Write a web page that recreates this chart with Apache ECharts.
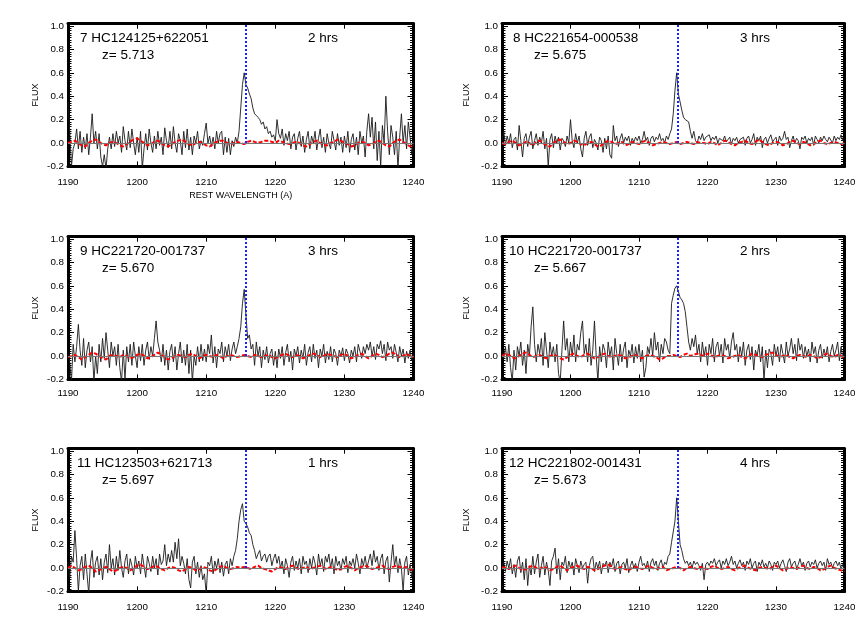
<!DOCTYPE html>
<html>
<head>
<meta charset="utf-8">
<title>Lyman alpha spectra</title>
<script src="https://cdn.jsdelivr.net/npm/echarts@6/dist/echarts.min.js"></script>
<style>
  html, body { margin: 0; padding: 0; background: #fff; }
  #chart { width: 864px; height: 637px; }
</style>
</head>
<body>
<div id="chart"></div>
<script>
// rest-frame wavelength grid (Angstrom)
var WAVE_START = 1190;
var WAVE_STEP = 0.25;
var NOISE_STEP = 0.5;
var LYA = 1215.67;

var names = ['7 HC124125+622051', '8 HC221654-000538', '9 HC221720-001737',
             '10 HC221720-001737', '11 HC123503+621713', '12 HC221802-001431'];
var redshifts = ['5.713', '5.675', '5.670', '5.667', '5.697', '5.673'];
var hours = ['2 hrs', '3 hrs', '3 hrs', '2 hrs', '1 hrs', '4 hrs'];

// spectra, one value every 0.25 A from 1190 to 1240
var flux7 = [
  0.35, 0.1, -0.2, -0.05, 0.0, 0.12, -0.05, 0.1, -0.08, 0.05, -0.05, 0.08, -0.1, 0.05, 0.25, 0.0, 0.1, -0.05, 0.08, -0.12,
  -0.2, -0.1, -0.22, -0.05, 0.05, -0.05, 0.08, -0.03, 0.1, 0.0, 0.06, -0.08, 0.14, 0.02, -0.06, 0.1, -0.04, 0.12, 0.0, -0.1,
  0.05, -0.08, 0.1, -0.22, -0.05, 0.08, -0.06, 0.12, 0.0, -0.08, 0.06, -0.05, 0.1, -0.02, 0.05, -0.1, 0.13, 0.02, -0.04, 0.1,
  -0.05, 0.14, 0.0, -0.08, 0.08, 0.02, -0.1, 0.1, -0.04, 0.12, -0.06, 0.05, -0.1, 0.06, 0.0, 0.1, -0.05, 0.02, -0.02, 0.08,
  0.17, 0.0, 0.06, -0.03, 0.05, -0.05, 0.1, 0.0, 0.08, 0.1, -0.1, 0.05, -0.08, 0.04, -0.1, 0.02, -0.03, 0.05, 0.0, 0.1,
  0.3, 0.5, 0.6, 0.5, 0.47, 0.42, 0.38, 0.3, 0.25, 0.26, 0.22, 0.2, 0.16, 0.18, 0.12, 0.14, 0.08, 0.1, 0.05, 0.07,
  0.02, 0.2, 0.08, 0.04, 0.12, -0.02, 0.08, 0.02, 0.1, -0.05, 0.05, 0.08, -0.06, 0.04, 0.1, -0.03, 0.06, -0.08, 0.03, 0.1,
  -0.05, 0.06, 0.0, 0.1, -0.06, 0.04, 0.12, -0.04, 0.05, -0.08, 0.08, 0.0, -0.05, 0.1, 0.02, -0.06, 0.08, -0.02, 0.05, -0.08,
  0.06, -0.04, 0.1, -0.08, 0.03, 0.08, -0.06, 0.05, -0.1, 0.1, 0.0, 0.06, -0.12, 0.1, 0.25, 0.05, 0.22, -0.05, 0.18, -0.15,
  0.1, -0.2, 0.15, 0.0, 0.4, 0.1, -0.1, 0.15, 0.05, -0.1, 0.1, -0.22, 0.05, 0.25, 0.0, 0.15, -0.05, 0.18, 0.05, -0.1, 0.02
];
var flux8 = [
  0.02, 0.1, -0.02, 0.06, 0.0, 0.08, -0.04, 0.03, 0.05, -0.06, 0.15, 0.02, -0.12, 0.04, 0.08, -0.03, 0.05, 0.1, -0.05, 0.02,
  0.08, -0.02, 0.05, 0.0, 0.1, -0.05, 0.04, -0.2, 0.03, 0.08, -0.04, 0.06, 0.0, 0.05, -0.06, 0.04, 0.02, -0.03, 0.06, 0.0,
  0.2, 0.02, -0.04, 0.08, 0.0, 0.06, -0.05, -0.12, 0.04, 0.1, -0.02, 0.05, 0.08, -0.04, 0.03, 0.0, -0.06, 0.05, 0.02, -0.08,
  0.04, -0.05, 0.06, -0.1, -0.13, 0.15, 0.02, 0.06, -0.03, 0.04, 0.08, 0.0, 0.05, 0.02, 0.06, -0.02, 0.04, 0.01, 0.05, 0.02,
  0.06, 0.0, 0.03, 0.1, 0.02, 0.05, -0.02, 0.04, 0.06, 0.01, 0.05, 0.03, 0.08, 0.02, 0.04, 0.0, 0.06, 0.03, 0.08, 0.12,
  0.25, 0.45, 0.6, 0.42, 0.35, 0.28, 0.22, 0.2, 0.21, 0.18, 0.1, 0.04, 0.1, 0.02, 0.0, 0.06, 0.03, 0.08, 0.02, 0.05,
  0.04, 0.07, 0.02, 0.05, 0.03, 0.06, 0.0, 0.04, 0.05, 0.02, 0.06, 0.01, 0.03, 0.05, -0.01, 0.04, 0.02, 0.05, 0.0, 0.03,
  0.02, 0.05, -0.02, 0.04, 0.06, 0.0, 0.03, 0.08, -0.02, 0.05, 0.02, 0.06, -0.04, 0.03, 0.05, 0.0, 0.04, 0.07, 0.01, 0.03,
  0.05, -0.02, 0.06, 0.02, 0.04, 0.1, 0.03, 0.05, -0.04, 0.02, 0.06, 0.0, 0.04, 0.02, -0.05, 0.05, 0.03, 0.06, 0.0, 0.04,
  0.02, 0.05, -0.02, 0.06, 0.03, 0.0, 0.05, 0.02, 0.06, 0.03, 0.01, 0.05, 0.04, 0.0, 0.06, 0.02, 0.05, 0.03, 0.07, 0.02, 0.04
];
var flux9 = [
  0.0, -0.05, -0.22, 0.1, -0.05, 0.08, 0.27, 0.05, -0.08, 0.15, -0.1, 0.05, 0.12, -0.05, 0.08, -0.22, 0.0, -0.15, 0.1, -0.05,
  0.15, -0.02, 0.2, 0.05, -0.1, 0.12, 0.0, 0.08, -0.08, 0.1, -0.1, -0.22, 0.05, -0.2, 0.08, -0.05, 0.1, -0.08, 0.12, 0.0,
  -0.1, 0.08, -0.04, 0.1, -0.08, 0.05, 0.12, -0.03, 0.08, 0.0, 0.15, 0.3, 0.12, 0.05, -0.05, 0.1, -0.08, 0.05, -0.12, 0.04,
  0.1, -0.05, 0.08, -0.12, 0.02, 0.12, -0.06, 0.05, -0.08, 0.1, -0.15, 0.05, -0.22, 0.0, -0.08, 0.08, -0.05, 0.1, -0.04, 0.06,
  -0.05, 0.1, 0.02, 0.18, -0.06, 0.08, -0.1, 0.06, 0.02, 0.12, -0.05, 0.08, 0.0, 0.1, -0.04, 0.06, 0.12, 0.02, 0.08, 0.15,
  0.25, 0.45, 0.57, 0.35, 0.15, 0.18, 0.06, 0.1, -0.08, 0.12, 0.0, 0.08, -0.1, 0.05, -0.03, 0.08, -0.06, 0.02, 0.06, -0.08,
  0.04, -0.1, 0.06, -0.02, 0.08, -0.08, 0.03, 0.1, -0.05, 0.04, -0.12, 0.06, 0.0, 0.08, -0.06, 0.05, -0.02, 0.1, -0.08, 0.03,
  0.08, -0.05, 0.1, -0.02, 0.05, -0.1, 0.06, 0.0, 0.1, -0.06, 0.04, -0.03, 0.08, -0.05, 0.06, 0.02, -0.08, 0.05, 0.0, 0.07,
  -0.04, 0.06, 0.02, -0.06, 0.05, 0.0, 0.08, -0.05, 0.1, 0.04, -0.02, 0.08, 0.02, 0.1, 0.05, 0.12, 0.0, 0.08, -0.03, 0.1,
  0.06, 0.13, 0.02, 0.1, -0.04, 0.12, 0.05, 0.08, -0.02, 0.1, 0.03, -0.05, 0.08, 0.0, 0.06, -0.06, 0.04, -0.02, 0.05, -0.04, 0.02
];
var flux10 = [
  0.05, -0.02, 0.08, -0.05, 0.1, -0.1, -0.22, 0.05, -0.12, 0.08, 0.0, 0.12, -0.08, 0.05, -0.15, 0.1, 0.0, 0.25, 0.42, 0.1,
  -0.05, 0.1, 0.02, 0.15, -0.08, 0.2, 0.05, -0.1, 0.12, 0.0, 0.08, -0.05, 0.1, -0.15, -0.22, 0.05, 0.3, 0.05, 0.15, -0.05,
  0.12, 0.0, 0.18, -0.05, 0.1, 0.05, 0.2, 0.3, 0.02, 0.1, -0.05, 0.15, -0.08, 0.05, 0.3, 0.0, -0.22, 0.08, -0.05, 0.1,
  0.05, -0.1, 0.12, 0.0, 0.08, -0.12, 0.15, 0.02, -0.08, 0.1, -0.05, 0.06, 0.12, -0.1, 0.05, 0.0, 0.1, -0.06, 0.08, -0.02,
  0.1, -0.05, 0.05, -0.18, -0.1, 0.08, 0.02, 0.15, 0.0, 0.2, 0.05, 0.12, -0.05, 0.1, 0.02, 0.15, 0.12, 0.05, 0.02, 0.45,
  0.52, 0.58, 0.6, 0.55, 0.5, 0.48, 0.45, 0.38, 0.25, 0.12, 0.05, 0.15, 0.08, 0.18, 0.02, 0.1, -0.05, 0.12, 0.0, 0.08,
  -0.08, 0.1, 0.02, 0.15, -0.05, 0.08, 0.12, 0.0, 0.1, -0.06, 0.15, 0.05, 0.1, -0.02, 0.12, 0.2, 0.05, 0.1, -0.05, 0.08,
  0.0, 0.12, -0.08, 0.05, 0.1, -0.03, 0.08, -0.12, 0.05, 0.0, 0.1, -0.05, 0.08, -0.22, 0.05, -0.1, 0.06, 0.02, -0.08, 0.1,
  0.0, 0.08, -0.05, 0.1, 0.02, -0.06, 0.12, 0.0, 0.06, 0.15, 0.02, 0.1, -0.04, 0.15, 0.05, 0.1, -0.02, 0.08, 0.0, 0.06,
  -0.05, 0.12, 0.02, 0.08, -0.06, 0.05, 0.1, -0.02, 0.06, 0.0, 0.08, -0.05, 0.04, 0.1, 0.0, 0.05, 0.12, -0.04, 0.08, -0.02, 0.03
];
var flux11 = [
  0.05, -0.08, 0.1, 0.05, 0.32, 0.08, -0.2, 0.02, 0.1, -0.1, 0.12, -0.05, -0.22, 0.05, 0.15, -0.08, 0.05, 0.1, -0.06, 0.08,
  -0.1, 0.05, 0.12, -0.04, 0.2, 0.0, 0.08, -0.06, 0.1, -0.02, 0.15, 0.0, -0.08, 0.06, 0.12, -0.05, 0.08, 0.02, -0.06, 0.1,
  0.0, 0.06, -0.05, 0.12, 0.02, -0.08, 0.1, 0.04, -0.03, 0.1, 0.0, 0.08, -0.06, 0.12, 0.03, 0.06, 0.2, 0.02, 0.12, 0.05,
  0.15, 0.05, 0.22, 0.08, 0.25, 0.02, 0.1, 0.04, -0.05, 0.08, -0.1, -0.17, 0.05, 0.1, -0.05, 0.05, -0.08, 0.02, -0.1, -0.05,
  -0.22, 0.05, 0.02, 0.1, -0.05, 0.06, 0.0, 0.08, -0.04, 0.05, -0.07, 0.03, 0.06, -0.05, 0.08, 0.02, 0.1, 0.15, 0.25, 0.4,
  0.5, 0.55, 0.4, 0.38, 0.35, 0.3, 0.28, 0.2, 0.15, 0.08, 0.12, 0.15, 0.06, 0.1, 0.12, 0.05, 0.1, 0.12, 0.02, 0.08,
  0.12, 0.04, 0.1, 0.0, 0.06, -0.05, 0.08, 0.02, -0.08, 0.05, 0.1, -0.02, 0.06, 0.0, 0.08, -0.05, 0.1, 0.03, 0.06, -0.04,
  0.08, 0.0, 0.1, 0.04, -0.06, 0.12, 0.02, 0.08, -0.03, 0.1, 0.05, 0.12, 0.0, 0.08, -0.05, 0.1, 0.02, 0.06, -0.02, 0.08,
  0.03, 0.1, -0.04, 0.06, 0.02, 0.08, 0.0, 0.12, 0.04, -0.05, 0.08, 0.02, 0.1, 0.0, 0.06, 0.12, 0.02, 0.15, 0.05, 0.1,
  -0.02, 0.08, 0.12, -0.05, 0.06, 0.1, -0.12, 0.05, 0.2, 0.02, 0.1, -0.04, 0.08, 0.0, -0.2, 0.05, 0.1, -0.06, 0.03, -0.08, 0.0
];
var flux12 = [
  0.02, 0.05, -0.03, 0.06, 0.0, 0.08, -0.05, 0.03, -0.08, 0.06, 0.1, -0.04, 0.05, -0.1, 0.08, -0.15, 0.02, -0.06, 0.1, -0.05,
  0.05, 0.12, -0.08, 0.02, 0.1, -0.06, 0.05, -0.02, -0.15, 0.06, 0.1, 0.17, -0.05, 0.08, -0.1, 0.05, 0.02, 0.1, -0.04, 0.06,
  0.0, 0.05, -0.06, 0.08, 0.02, -0.04, 0.06, 0.0, 0.03, 0.05, -0.13, 0.02, 0.08, 0.1, -0.03, 0.05, 0.0, 0.06, -0.05, 0.04,
  0.02, 0.06, -0.04, 0.05, 0.01, 0.08, -0.03, 0.04, 0.06, -0.05, 0.03, 0.05, 0.0, 0.08, -0.04, 0.02, 0.06, 0.0, 0.04, -0.03,
  0.05, 0.1, 0.02, 0.04, 0.0, 0.06, -0.03, 0.05, 0.08, 0.02, 0.06, -0.02, 0.04, 0.07, 0.0, 0.05, 0.03, 0.1, 0.12, 0.22,
  0.23, 0.4, 0.6, 0.4, 0.2, 0.15, 0.08, 0.04, 0.06, 0.02, 0.05, 0.0, 0.06, 0.03, 0.05, 0.02, -0.02, 0.04, -0.1, 0.03,
  0.05, 0.02, 0.06, 0.04, 0.08, 0.02, 0.05, 0.07, 0.0, 0.06, 0.03, 0.08, 0.02, 0.05, 0.1, 0.03, 0.06, 0.0, 0.04, 0.07,
  0.02, 0.05, -0.02, 0.06, 0.03, 0.08, 0.0, 0.04, 0.06, -0.03, 0.05, 0.02, 0.07, 0.01, 0.04, 0.0, 0.06, 0.03, -0.02, 0.05,
  0.03, 0.06, 0.0, 0.04, 0.07, 0.02, -0.03, 0.05, 0.08, 0.01, 0.04, 0.06, 0.0, 0.03, 0.08, 0.02, 0.05, -0.02, 0.04, 0.06,
  0.01, 0.05, 0.03, 0.07, 0.0, 0.04, 0.06, 0.02, 0.05, -0.02, 0.08, 0.03, 0.05, 0.0, 0.04, 0.06, 0.02, 0.05, -0.01, 0.03, -0.03
];

// red dashed curves, one value every 0.5 A
var noise7 = [
  0.0, 0.01, 0.02, 0.0, -0.02, -0.03, 0.0, 0.02, 0.03, 0.01, -0.01, -0.02, 0.0, 0.01, 0.0, -0.02, -0.03, -0.01, 0.01, 0.03,
  0.04, 0.02, 0.0, -0.02, -0.01, 0.01, 0.02, 0.0, -0.02, -0.03, -0.01, 0.01, 0.02, 0.03, 0.01, -0.01, -0.02, 0.0, 0.01, 0.0,
  -0.02, -0.03, -0.01, 0.01, 0.02, 0.02, 0.0, -0.01, 0.0, 0.01, 0.0, -0.01, 0.01, 0.02, 0.01, 0.0, 0.01, 0.02, 0.02, 0.01,
  0.0, 0.02, 0.01, 0.0, -0.01, 0.0, 0.01, 0.0, -0.02, -0.03, -0.01, 0.01, 0.02, 0.0, -0.02, -0.02, 0.0, 0.01, 0.03, 0.02,
  0.0, -0.01, -0.03, -0.02, 0.0, 0.01, 0.0, -0.02, -0.01, 0.01, 0.02, 0.0, -0.02, -0.03, 0.0, 0.02, 0.03, 0.01, -0.01, -0.03, -0.02
];
var noise8 = [
  0.0, -0.01, 0.01, 0.02, 0.0, -0.02, -0.01, 0.01, 0.0, -0.02, 0.01, 0.02, 0.0, -0.02, -0.03, 0.0, 0.02, 0.03, 0.01, -0.01,
  0.0, 0.02, 0.01, -0.01, -0.02, 0.0, 0.01, -0.01, -0.03, -0.02, 0.0, 0.02, 0.01, -0.01, 0.0, 0.01, -0.02, -0.01, 0.01, 0.0,
  -0.01, 0.01, 0.02, 0.0, -0.02, -0.01, 0.0, 0.01, 0.0, -0.01, 0.0, 0.01, -0.01, 0.0, 0.01, 0.0, -0.01, 0.01, 0.0, 0.0,
  -0.01, 0.01, 0.0, -0.02, 0.0, 0.02, 0.01, -0.01, -0.02, 0.0, 0.01, 0.02, 0.0, -0.01, 0.01, 0.03, 0.01, -0.01, -0.02, 0.0,
  0.01, 0.0, -0.02, -0.01, 0.01, 0.02, 0.0, -0.01, 0.01, 0.0, -0.02, -0.01, 0.01, 0.02, 0.0, -0.01, 0.0, 0.01, 0.0, -0.01, 0.0
];
var noise9 = [
  -0.01, 0.0, 0.01, -0.01, -0.03, -0.01, 0.01, 0.03, 0.02, 0.0, -0.02, -0.03, 0.0, 0.01, 0.0, -0.01, 0.01, 0.0, -0.02, -0.01,
  0.01, 0.02, 0.0, -0.02, -0.01, 0.01, 0.03, 0.01, -0.01, -0.03, -0.02, 0.0, 0.01, 0.0, -0.01, 0.01, 0.02, 0.0, -0.02, 0.0,
  0.01, 0.0, -0.01, 0.01, 0.0, -0.02, 0.0, 0.01, 0.0, -0.01, 0.0, 0.01, 0.0, -0.01, 0.01, 0.0, -0.01, 0.0, 0.01, -0.01,
  -0.02, 0.0, 0.01, 0.02, 0.0, -0.01, 0.01, 0.0, -0.02, -0.01, 0.01, 0.02, 0.01, -0.01, 0.0, 0.02, 0.01, 0.0, -0.01, 0.01,
  0.02, 0.0, -0.02, -0.01, 0.01, 0.02, 0.0, -0.02, 0.0, 0.02, 0.01, -0.01, 0.0, 0.02, 0.03, 0.01, -0.01, 0.0, 0.02, 0.0, -0.01
];
var noise10 = [
  0.0, 0.02, 0.01, -0.01, -0.02, 0.0, 0.02, 0.03, 0.01, -0.01, 0.0, 0.01, -0.01, -0.02, 0.0, 0.01, 0.0, -0.02, -0.03, -0.01,
  0.01, 0.02, 0.0, -0.01, 0.01, 0.02, 0.0, -0.02, -0.01, 0.01, 0.02, 0.0, -0.01, 0.0, 0.01, 0.0, -0.02, -0.01, 0.0, 0.01,
  -0.01, -0.02, 0.0, 0.01, 0.0, -0.01, -0.03, -0.02, 0.0, 0.0, 0.01, 0.0, -0.01, 0.01, 0.02, 0.0, 0.01, 0.02, 0.01, 0.0,
  0.02, 0.01, -0.01, 0.0, 0.01, 0.0, -0.02, -0.01, 0.0, 0.01, -0.01, -0.02, 0.0, 0.02, 0.01, 0.0, -0.01, 0.01, 0.02, 0.03,
  0.01, -0.01, 0.0, 0.01, -0.01, -0.02, 0.0, 0.01, 0.0, -0.01, 0.01, 0.0, -0.02, -0.01, 0.01, 0.02, 0.0, -0.01, 0.01, 0.0, -0.02
];
var noise11 = [
  0.0, 0.02, 0.0, -0.02, -0.01, 0.01, 0.02, 0.0, -0.03, -0.02, 0.0, 0.01, -0.01, -0.03, -0.02, 0.0, 0.01, 0.0, -0.02, 0.0,
  0.02, 0.03, 0.01, -0.01, 0.0, 0.02, 0.01, -0.01, -0.02, 0.0, 0.01, 0.0, -0.02, -0.03, -0.01, 0.01, 0.0, -0.02, -0.01, 0.01,
  0.0, -0.02, -0.03, -0.01, 0.01, 0.02, 0.0, -0.01, 0.0, 0.01, 0.0, 0.01, 0.0, -0.01, 0.01, 0.02, 0.0, -0.01, -0.02, -0.03,
  -0.01, 0.01, 0.0, -0.01, 0.01, 0.02, 0.0, -0.01, 0.0, 0.01, -0.01, 0.0, 0.01, 0.02, 0.0, -0.01, 0.01, 0.0, -0.02, -0.01,
  0.01, 0.02, 0.0, -0.02, 0.0, 0.01, 0.02, 0.01, -0.01, 0.0, 0.01, 0.02, 0.0, -0.01, 0.01, 0.02, 0.01, 0.0, 0.01, -0.01, -0.02
];
var noise12 = [
  0.01, 0.0, -0.01, 0.01, 0.02, 0.0, -0.02, -0.01, 0.01, 0.02, 0.0, -0.01, 0.01, 0.0, -0.02, -0.01, 0.01, 0.02, 0.0, -0.02,
  0.0, 0.01, 0.02, 0.0, -0.01, 0.01, 0.0, -0.02, -0.01, 0.01, 0.02, 0.03, 0.01, -0.01, 0.0, 0.01, -0.01, -0.02, 0.0, 0.01,
  0.0, -0.01, 0.01, 0.02, 0.0, -0.01, 0.0, 0.01, -0.02, -0.01, 0.0, 0.01, 0.0, -0.02, 0.0, 0.01, 0.0, -0.01, 0.01, 0.0,
  -0.01, 0.01, 0.02, 0.0, -0.01, 0.0, 0.01, -0.01, -0.02, 0.0, 0.01, 0.02, 0.0, -0.01, -0.02, 0.0, 0.01, 0.0, -0.01, 0.01,
  0.02, 0.0, -0.02, -0.01, 0.01, 0.0, -0.01, 0.01, 0.02, 0.0, -0.01, 0.01, 0.0, -0.02, -0.01, 0.01, 0.02, 0.0, -0.01, -0.02, -0.03
];

var fluxes = [flux7, flux8, flux9, flux10, flux11, flux12];
var noises = [noise7, noise8, noise9, noise10, noise11, noise12];

// layout of the 3x2 panels
var FONT = '"Liberation Sans", Arial, Helvetica, sans-serif';
var colLeft = [68, 502];
var colWidth = [345.5, 342.5];
var rowTop = [23.7, 236.7, 448.7];
var plotHeight = 142.7;
var labelMargin = [11, 9, 11];
var fluxNameGap = [28, 31];
var titleOffset = [12, 11, 12, 7, 9, 7];

function pairs(values, step) {
    return values.map(function (v, i) { return [WAVE_START + i * step, v]; });
}

var grids = [], xAxes = [], yAxes = [], series = [], graphics = [];

for (var i = 0; i < 6; i++) {
    var r = Math.floor(i / 2), c = i % 2;
    grids.push({ left: colLeft[c], width: colWidth[c], top: rowTop[r], height: plotHeight });

    ['bottom', 'top'].forEach(function (pos) {
        xAxes.push({
            type: 'value', gridIndex: i, position: pos,
            min: 1190, max: 1240, interval: 10,
            axisLine: { show: true, onZero: false, lineStyle: { color: '#000', width: 3 } },
            axisTick: { show: true, inside: true, length: 5, lineStyle: { color: '#000', width: 1 } },
            axisLabel: {
                show: pos === 'bottom', color: '#000', fontSize: 9.8, fontFamily: FONT, margin: labelMargin[r],
                formatter: function (v) { return String(v); }
            },
            splitLine: { show: false },
            name: (i === 0 && pos === 'bottom') ? 'REST WAVELENGTH (A)' : '',
            nameLocation: 'middle', nameGap: 25,
            nameTextStyle: { color: '#000', fontSize: 9, fontFamily: FONT }
        });
    });
    ['left', 'right'].forEach(function (pos) {
        yAxes.push({
            type: 'value', gridIndex: i, position: pos,
            min: -0.2, max: 1.02, interval: 0.2,
            axisLine: { show: true, onZero: false, lineStyle: { color: '#000', width: 3 } },
            axisTick: { show: true, inside: true, length: 6, lineStyle: { color: '#000', width: 1 } },
            minorTick: { show: true, splitNumber: 10, length: 3.5, lineStyle: { color: '#000', width: 1 } },
            axisLabel: {
                show: pos === 'left', color: '#000', fontSize: 9.8, fontFamily: FONT, margin: 4,
                formatter: function (v) { return v > 1.001 ? '' : v.toFixed(1); }
            },
            splitLine: { show: false },
            name: pos === 'left' ? 'FLUX' : '',
            nameLocation: 'middle', nameGap: fluxNameGap[c], nameRotate: 90,
            nameTextStyle: { color: '#000', fontSize: 9, fontFamily: FONT }
        });
    });

    series.push({
        type: 'line', xAxisIndex: 2 * i, yAxisIndex: 2 * i,
        data: pairs(fluxes[i], WAVE_STEP),
        symbol: 'none', clip: true, silent: true, z: 2,
        lineStyle: { color: '#1a1a1a', width: 0.9 },
        markLine: {
            silent: true, symbol: 'none', label: { show: false },
            lineStyle: { color: '#777', width: 1, type: 'solid' },
            data: [{ yAxis: 0 }]
        }
    });
    series.push({
        type: 'line', xAxisIndex: 2 * i, yAxisIndex: 2 * i,
        data: pairs(noises[i], NOISE_STEP),
        symbol: 'none', clip: true, silent: true, z: 3,
        lineStyle: { color: '#ff0000', width: 2, type: [4, 2] },
        markLine: {
            silent: true, symbol: 'none', label: { show: false },
            lineStyle: { color: '#1f1fff', width: 2, type: [2, 2] },
            data: [[{ coord: [LYA, 0] }, { coord: [LYA, 1.02] }]]
        }
    });

    var tx = colLeft[c], ty = rowTop[r] + 2.3;
    [[names[i], tx + titleOffset[i], ty + 12],
     ['z= ' + redshifts[i], tx + 34 - c * 2, ty + 29],
     [hours[i], tx + 240 - c * 2, ty + 12]].forEach(function (t) {
        graphics.push({
            type: 'text', x: t[1], y: t[2], silent: true,
            style: { text: t[0], fill: '#000', font: '13.5px ' + FONT, textAlign: 'left', textVerticalAlign: 'middle' }
        });
    });
}

var chart = echarts.init(document.getElementById('chart'));
chart.setOption({
    animation: false,
    backgroundColor: '#fff',
    grid: grids,
    xAxis: xAxes,
    yAxis: yAxes,
    series: series,
    graphic: graphics
});
</script>
</body>
</html>
